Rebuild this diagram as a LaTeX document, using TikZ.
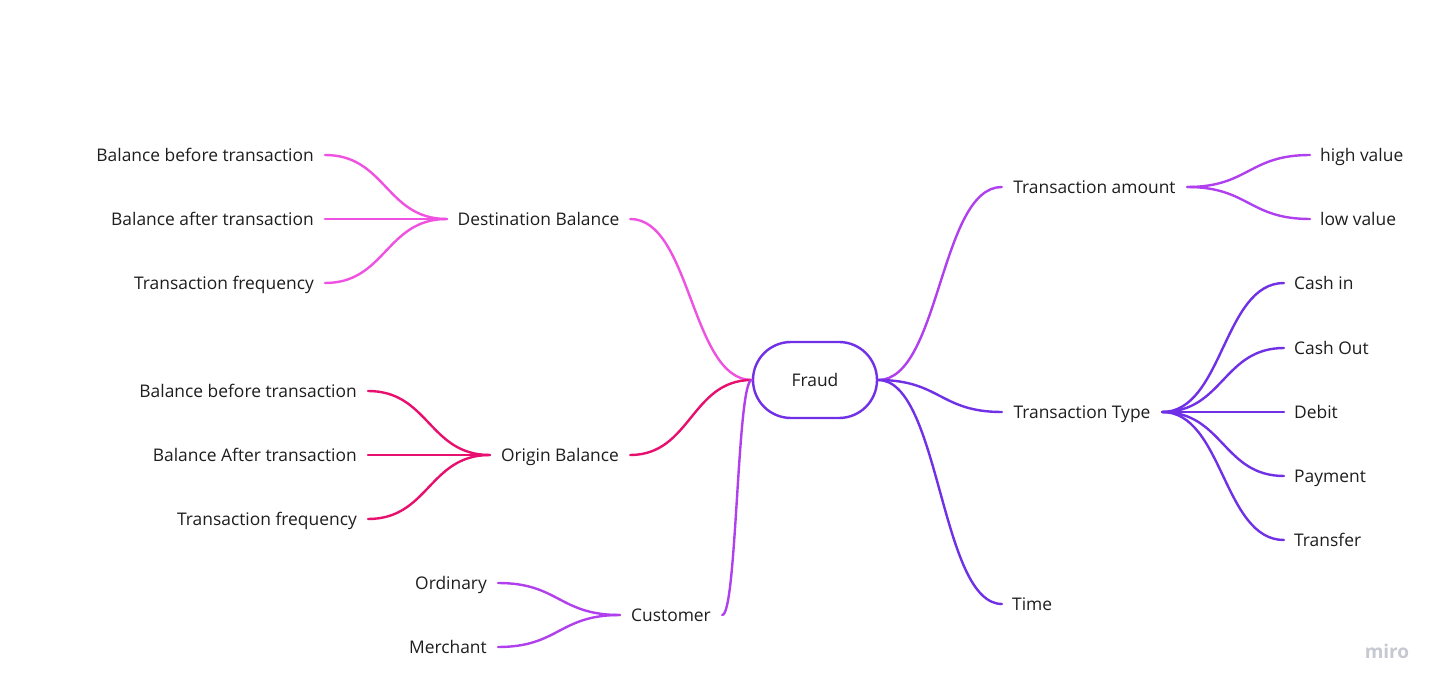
\documentclass[tikz,border=0pt]{standalone}
\usepackage{fontspec}
\setmainfont{Open Sans}
\usetikzlibrary{calc}
\definecolor{cpink}{HTML}{EF52E0}
\definecolor{ccrim}{HTML}{E8106E}
\definecolor{cpurp}{HTML}{B040EE}
\definecolor{cviol}{HTML}{7030E6}
\definecolor{ctext}{HTML}{1E1E1E}
\definecolor{cmiro}{HTML}{C6C8D2}
\tikzset{
  hc/.style={to path={let \p1=(\tikztostart), \p2=(\tikztotarget) in
     .. controls ({(\x1+\x2)/2},\y1) and ({(\x1+\x2)/2},\y2) .. (\tikztotarget)}},
  conn/.style={line width=2.4pt, line cap=round},
  lbl/.style={font=\fontsize{17.4}{20}\selectfont, text=ctext, inner ysep=2pt, text height=13.4pt, text depth=0pt},
  leafl/.style={lbl, anchor=east, inner xsep=11pt},
  leafr/.style={lbl, anchor=west, inner xsep=10pt},
  hub/.style={lbl, inner xsep=0pt, align=center},
}
\begin{document}
\begin{tikzpicture}[x=1pt,y=-1pt]
\useasboundingbox[fill=white] (0,0) rectangle (1444,692);
% central
\node[lbl, draw=cviol, line width=2.4pt, minimum width=124pt, minimum height=76pt, rounded corners=38pt] (fraud) at (815,380) {Fraud};
% hubs
\node[hub, minimum width=183pt] (dest) at (538.5,219) {Destination Balance};
\node[hub, minimum width=140pt] (orig) at (560,455) {Origin Balance};
\node[hub, minimum width=102pt] (cust) at (671,615) {Customer};
\node[hub, minimum width=185pt] (tam) at (1094.5,187) {Transaction amount};
\node[hub, minimum width=160pt] (tty) at (1082,412) {Transaction Type};
\node[leafr] (time) at (1002,604) {Time};
% leaves
\node[leafl] (d1) at (325,155) {Balance before transaction};
\node[leafl] (d2) at (325,219) {Balance after transaction};
\node[leafl] (d3) at (325,283) {Transaction frequency};
\node[leafl] (o1) at (368,391) {Balance before transaction};
\node[leafl] (o2) at (368,455) {Balance After transaction};
\node[leafl] (o3) at (368,519) {Transaction frequency};
\node[leafl] (c1) at (498,583) {Ordinary};
\node[leafl] (c2) at (498,647) {Merchant};
\node[leafr] (h1) at (1310,155) {high value};
\node[leafr] (h2) at (1310,219) {low value};
\node[leafr] (t1) at (1284,283) {Cash in};
\node[leafr] (t2) at (1284,348) {Cash Out};
\node[leafr] (t3) at (1284,412) {Debit};
\node[leafr] (t4) at (1284,476) {Payment};
\node[leafr] (t5) at (1284,540) {Transfer};
% connectors
\draw[conn, cpink] (dest.east) to[hc] (fraud.west);
\draw[conn, cpink] (dest.west) to[hc] (d1.east);
\draw[conn, cpink] (dest.west) to[hc] (d2.east);
\draw[conn, cpink] (dest.west) to[hc] (d3.east);
\draw[conn, ccrim] (orig.east) to[hc] (fraud.west);
\draw[conn, ccrim] (orig.west) to[hc] (o1.east);
\draw[conn, ccrim] (orig.west) to[hc] (o2.east);
\draw[conn, ccrim] (orig.west) to[hc] (o3.east);
\draw[conn, cpurp] (cust.east) to[hc] (fraud.west);
\draw[conn, cpurp] (cust.west) to[hc] (c1.east);
\draw[conn, cpurp] (cust.west) to[hc] (c2.east);
\draw[conn, cpurp] (fraud.east) to[hc] (tam.west);
\draw[conn, cpurp] (tam.east) to[hc] (h1.west);
\draw[conn, cpurp] (tam.east) to[hc] (h2.west);
\draw[conn, cviol] (fraud.east) to[hc] (tty.west);
\draw[conn, cviol] (fraud.east) to[hc] (time.west);
\foreach \t in {t1,t2,t3,t4,t5} \draw[conn, cviol] (tty.east) to[hc] (\t.west);
% logo
\node[font=\fontsize{19}{22}\selectfont\bfseries, text=cmiro] (logo) at (1387,651) {miro};
\end{tikzpicture}
\end{document}
